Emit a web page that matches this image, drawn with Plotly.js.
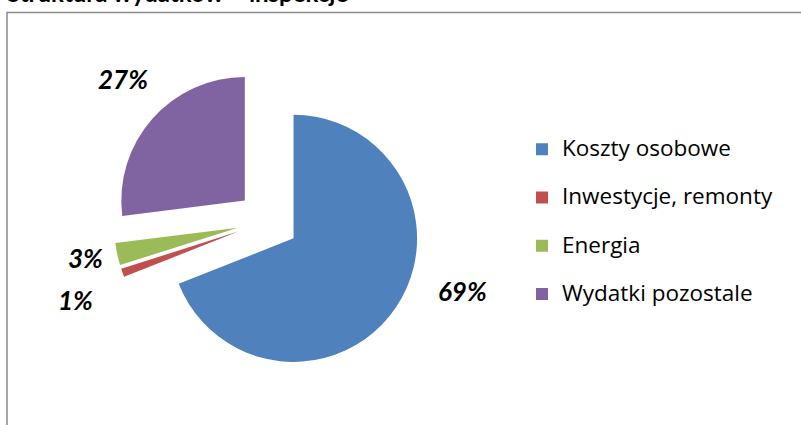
<!DOCTYPE html>
<html>
<head>
<meta charset="utf-8">
<script src="https://cdn.plot.ly/plotly-3.0.1.min.js"></script>
<style>html,body{margin:0;padding:0;background:#fff;}#chart{width:801px;height:425px;}</style>
</head>
<body>
<div id="chart"></div>
<script>
const chartTitle = "Struktura wydatków – inspekcje";
const categories = ["Koszty osobowe", "Inwestycje, remonty", "Energia", "Wydatki pozostale"];
const values = [69.0, 1.1, 2.9, 27.0];
const colors = ["#4F81BD", "#C0504D", "#9BBB59", "#8064A2"];
// label anchor positions (pixels) for the percentage labels
const labelPos = [[462, 291], [75, 300], [85, 258], [123, 79]];

const W = 801, H = 425;
const total = values.reduce((a, b) => a + b, 0);
const px = x => x / W;
const py = y => 1 - y / H;

const trace = {
  type: "pie",
  labels: categories.map(c => '<span style="font-size:22.5px">' + c + '</span><br> '),
  values: values,
  sort: false,
  direction: "clockwise",
  rotation: 0,
  pull: 0.25,
  textinfo: "none",
  hoverinfo: "label+percent",
  marker: { colors: colors, line: { width: 0 } },
  domain: { x: [px(113.6), px(422.4)], y: [py(375.4), py(66.6)] }
};

const annotations = values.map((v, i) => ({
  xref: "paper", yref: "paper",
  x: px(labelPos[i][0]), y: py(labelPos[i][1]),
  xanchor: "center", yanchor: "middle",
  text: Math.round(v / total * 100) + "%",
  showarrow: false,
  font: { family: "Lato, 'Open Sans', sans-serif", size: 26, color: "#000", weight: "bold", style: "italic" }
}));

const layout = {
  width: W, height: H,
  margin: { l: 0, r: 0, t: 0, b: 0 },
  paper_bgcolor: "#fff",
  plot_bgcolor: "#fff",
  title: {
    text: "<b>" + chartTitle + "</b>",
    x: px(7), xanchor: "left", xref: "paper",
    y: py(2), yanchor: "bottom", yref: "container",
    font: { family: "Lato, 'Open Sans', sans-serif", size: 24, color: "#000" }
  },
  showlegend: true,
  legend: {
    x: px(522), xanchor: "left",
    y: py(131.5), yanchor: "top",
    valign: "top",
    font: { family: "'Open Sans', Lato, sans-serif", size: 17.4, color: "#000" },
    bgcolor: "rgba(0,0,0,0)", borderwidth: 0
  },
  annotations: annotations,
  shapes: [{
    type: "rect", xref: "paper", yref: "paper",
    x0: px(7), x1: 1.05, y0: -0.05, y1: py(12.5),
    line: { color: "#8A8A8A", width: 1.5 }, fillcolor: "rgba(0,0,0,0)"
  }]
};

Plotly.newPlot("chart", [trace], layout, { displayModeBar: false, staticPlot: true });
</script>
</body>
</html>
